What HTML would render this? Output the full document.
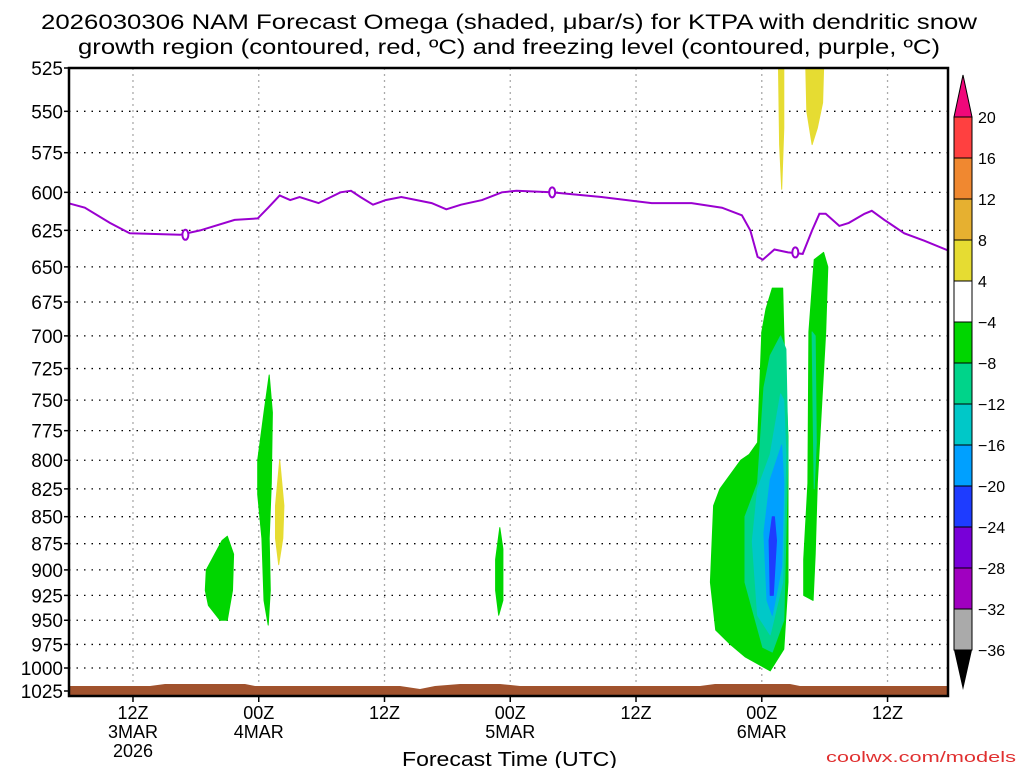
<!DOCTYPE html>
<html><head><meta charset="utf-8"><style>
html,body{margin:0;padding:0;background:#fff;}
svg{display:block;font-family:"Liberation Sans",sans-serif;}
</style></head><body>
<svg id="c" width="1024" height="768" viewBox="0 0 1024 768" xmlns="http://www.w3.org/2000/svg">
<defs><clipPath id="plotclip"><rect x="69" y="68" width="879" height="628"/></clipPath></defs>
<text x="41" y="29" font-size="21" textLength="936" lengthAdjust="spacingAndGlyphs" fill="#000">2026030306 NAM Forecast Omega (shaded, μbar/s) for KTPA with dendritic snow</text>
<text x="78" y="54" font-size="21" textLength="862" lengthAdjust="spacingAndGlyphs" fill="#000">growth region (contoured, red, ºC) and freezing level (contoured, purple, ºC)</text>
<text x="402" y="766" font-size="20" textLength="215" lengthAdjust="spacingAndGlyphs" fill="#000">Forecast Time (UTC)</text>
<text x="826" y="762" font-size="15" textLength="190" lengthAdjust="spacingAndGlyphs" fill="#e03030">coolwx.com/models</text>
<g id="grid"></g><g id="fills" clip-path="url(#plotclip)"></g><g id="lines" clip-path="url(#plotclip)"></g><g id="axes"></g><g id="cbar"></g>
</svg>
<script>
const NS="http://www.w3.org/2000/svg";
const pTicks=[525,550,575,600,625,650,675,700,725,750,775,800,825,850,875,900,925,950,975,1000,1025];
const xTickHours=[6,18,30,42,54,66,78];
const xTickLabels=[["12Z","3MAR","2026"],["00Z","4MAR"],["12Z"],["00Z","5MAR"],["12Z"],["00Z","6MAR"],["12Z"]];
// freezing level: [hour, hPa]
const frzHours=[-0.2,1.4,3.8,5.7,10.5,12.4,15.7,17.9,18.9,20.0,21.0,21.9,23.7,25.8,26.8,27.7,28.9,30.1,31.6,34.5,35.9,37.3,39.3,41.2,42.6,45.9,50.7,55.5,59.3,62.2,64.1,64.9,65.6,66.1,67.2,68.5,69.9,70.8,71.5,72.1,73.4,74.3,75.8,76.5,77.7,79.6,81.5,83.9];
const frzP=[607,610,620,627,628,625,618,617,610,602,605,603,607,600,599,603,608,605,603,607,611,608,605,600,599,600,603,607,607,610,615,625,643,645,638,640,641,625,614,614,622,620,614,612,618,627,632,639];
const frzLabels=[[11,628],[46,600],[69.2,640]];
// omega shaded regions: polygons of [hour,hPa]
const omegaColors={"-4":"#00d600","-8":"#00d48a","-12":"#00c8c8","-16":"#00a0ff","-20":"#1e3cff","4":"#e6dc32"};
const regions=[
 {lvl:-4,pts:[[13.0,900],[13.8,885],[14.5,872],[15.0,868],[15.6,885],[15.5,920],[15.0,950],[14.3,950],[13.2,935],[12.9,920]]},
 {lvl:-4,pts:[[17.9,800],[18.5,760],[19.0,730],[19.3,760],[19.2,820],[19.0,870],[19.1,920],[18.9,955],[18.5,930],[18.3,870],[17.9,830]]},
 {lvl:4,pts:[[19.6,840],[20.0,800],[20.4,840],[20.3,870],[19.9,895],[19.6,870]]},
 {lvl:-4,pts:[[40.6,890],[41.0,860],[41.3,880],[41.3,930],[40.9,945],[40.6,920]]},
 {lvl:4,pts:[[67.6,525],[68.1,525],[68.1,560],[67.9,598],[67.7,570]]},
 {lvl:4,pts:[[70.2,525],[71.9,525],[71.8,545],[71.3,560],[70.8,570],[70.3,550]]},
 {lvl:-4,pts:[[67.0,665],[66.4,680],[66.0,697],[65.8,740],[65.6,785],[64.8,795],[64.0,800],[62.0,825],[61.4,840],[61.1,912],[61.6,960],[63.0,975],[64.4,988],[66.8,1003],[68.1,980],[68.5,912],[68.5,780],[68.1,697],[68.0,665]]},
 {lvl:-8,pts:[[67.8,700],[66.8,715],[66.2,740],[65.6,820],[64.4,850],[64.4,912],[66.1,978],[67.0,983],[68.1,950],[68.5,795],[68.3,710]]},
 {lvl:-12,pts:[[67.8,745],[66.8,795],[65.6,825],[65.1,873],[65.6,945],[66.8,965],[68.0,912],[68.3,795],[68.1,750]]},
 {lvl:-16,pts:[[67.9,787],[66.8,817],[66.2,865],[66.5,930],[67.0,945],[67.9,897],[68.1,820]]},
 {lvl:-20,pts:[[67.0,850],[66.7,872],[66.8,925],[67.1,925],[67.4,872],[67.2,850]]},
 {lvl:-4,pts:[[71.9,640],[71.0,645],[70.5,697],[70.4,820],[70.0,890],[70.0,925],[70.9,930],[71.1,885],[71.3,820],[72.1,697],[72.3,650]]},
 {lvl:-8,pts:[[70.8,697],[70.9,760],[71.0,825],[71.2,785],[71.1,700]]}
];
const cbarLevels=[20,16,12,8,4,-4,-8,-12,-16,-20,-24,-28,-32,-36];
const cbarColors=["#ff4040","#f08830","#e6b030","#e6dc32","#ffffff","#00d600","#00d48a","#00c8c8","#00a0ff","#1e3cff","#7800d8","#a000c0","#aaaaaa"];

const L=69,R=948,T=68,B=696;
const X=h=>70.1+h*10.48;
const lp0=Math.log(525),lp1=Math.log(1025);
const Y=p=>68+(Math.log(p)-lp0)/(lp1-lp0)*623;
function el(t,a,parent){const e=document.createElementNS(NS,t);for(const k in a)e.setAttribute(k,a[k]);document.getElementById(parent).appendChild(e);return e;}

pTicks.forEach(p=>{
 const g=el("line",{x1:L,x2:R,y1:Y(p),y2:Y(p),stroke:"#000","stroke-width":1.3,"stroke-dasharray":"1.5 6"},"grid");
 
 
 const t=el("line",{x1:L-5,x2:L,y1:Y(p),y2:Y(p),stroke:"#000","stroke-width":1.5},"axes");
 
 
 const tx=el("text",{x:L-6,y:Y(p)+7,"font-size":19,"text-anchor":"end",fill:"#000"},"axes");
 tx.textContent=p;
 
 
});
xTickHours.forEach((h,i)=>{
 const g=el("line",{x1:X(h),x2:X(h),y1:T,y2:B,stroke:"#aaa","stroke-width":1.3,"stroke-dasharray":"2 4"},"grid");
 
 
 const t=el("line",{x1:X(h),x2:X(h),y1:B,y2:B+6,stroke:"#000","stroke-width":1.5},"axes");
 
 
 xTickLabels[i].forEach((s,j)=>{
  const tx=el("text",{x:X(h),y:B+23+j*19,"font-size":18,"text-anchor":"middle",fill:"#000"},"axes");
  tx.textContent=s;
  
  
 });
});
regions.forEach(r=>{
 const pg=el("polygon",{points:r.pts.map(q=>X(q[0]).toFixed(1)+","+Y(q[1]).toFixed(1)).join(" "),fill:omegaColors[r.lvl],"stroke":omegaColors[r.lvl],"stroke-width":1,"stroke-linejoin":"round"},"fills");
 
 
});
let gd="M"+L+","+B+" L"+L+",686 L150,686 L165,684 L245,684 L255,686 L400,686 L420,689 L435,686 L460,684 L500,684 L520,686 L700,686 L715,684 L790,684 L800,686 L"+R+",686 L"+R+","+B+" Z";
const gr=el("path",{d:gd,fill:"#a0522d"},"fills");


const fl=el("polyline",{points:frzHours.map((h,i)=>X(h).toFixed(1)+","+Y(frzP[i]).toFixed(1)).join(" "),fill:"none",stroke:"#9a00d0","stroke-width":2},"lines");


frzLabels.forEach(q=>{
 const e=el("ellipse",{cx:X(q[0]),cy:Y(q[1]),rx:3,ry:5,fill:"#fff",stroke:"#9a00d0","stroke-width":2},"lines");
 
 
});
const fr=el("rect",{x:L,y:T,width:R-L,height:B-T,fill:"none",stroke:"#000","stroke-width":2.5},"axes");


const cx0=954,cw=18,cy0=117,ch=41;
const tt=el("polygon",{points:`${cx0},${cy0} ${cx0+cw},${cy0} ${cx0+cw/2},75`,fill:"#f0087a",stroke:"#000","stroke-width":1},"cbar");


cbarColors.forEach((c,i)=>{
 const r=el("rect",{x:cx0,y:cy0+i*ch,width:cw,height:ch,fill:c,stroke:"#000","stroke-width":1},"cbar");
 
 
});
const bt=el("polygon",{points:`${cx0},${cy0+13*ch} ${cx0+cw},${cy0+13*ch} ${cx0+cw/2},690`,fill:"#000"},"cbar");


cbarLevels.forEach((v,i)=>{
 const t=el("text",{x:978,y:cy0+i*ch+6,"font-size":16,fill:"#000"},"cbar");
 t.textContent=v<0?"−"+(-v):v;
 
 
});
</script>
</body></html>
